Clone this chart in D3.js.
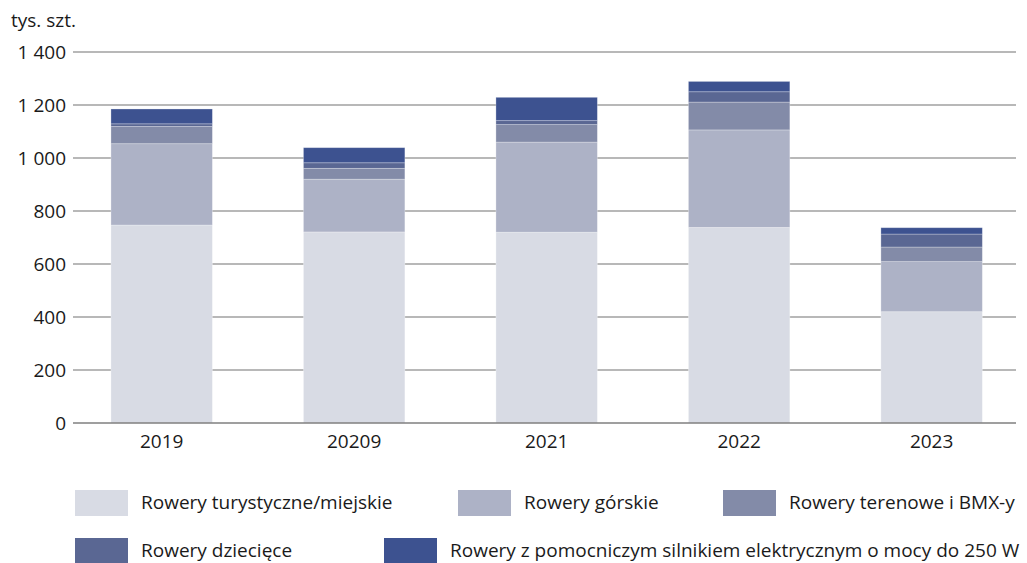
<!DOCTYPE html>
<html><head><meta charset="utf-8">
<script src="https://cdn.jsdelivr.net/npm/d3@7"></script>
<style>
html,body{margin:0;padding:0;background:#fff;}
svg{display:block;font-family:"Open Sans",sans-serif;}
</style></head>
<body><svg id="c" width="1027" height="563"></svg>
<script>
const years = ["2019","20209","2021","2022","2023"];
const turystyczne = [747, 721, 720, 738, 420];
const gorskie = [307, 199, 340, 368, 189];
const terenowe = [65, 41, 66, 105, 55];
const dzieciece = [10, 21, 15, 39, 49];
const elektryczne = [56, 57, 88, 39, 24];
const seriesNames = ["Rowery turystyczne/miejskie","Rowery górskie","Rowery terenowe i BMX-y","Rowery dziecięce","Rowery z pomocniczym silnikiem elektrycznym o mocy do 250 W"];
const seriesKeys = ["tur","gor","ter","dzi","ele"];
const colors = ["#d8dbe4","#adb2c6","#838ba8","#5a6793","#3d5290"];
const yTicks = [0,200,400,600,800,1000,1200,1400];
const unitLabel = "tys. szt.";

const rows = years.map((y,i)=>({year:y,tur:turystyczne[i],gor:gorskie[i],ter:terenowe[i],dzi:dzieciece[i],ele:elektryczne[i]}));
const stack = d3.stack().keys(seriesKeys)(rows);

const svg = d3.select("#c");
const fs = 19;
const x = d3.scaleBand().domain(years).range([73,1016]).paddingInner(0.473).paddingOuter(0.186).align(0.53);
const y = d3.scaleLinear().domain([0,1400]).range([423,52]);
const loc = d3.formatLocale({decimal:",",thousands:"\u00a0",grouping:[3],currency:["",""]});
const fmt = loc.format(",d");

// gridlines
svg.append("g").selectAll("line").data(yTicks.filter(d=>d>0)).join("line")
  .attr("x1",73).attr("x2",1016).attr("y1",d=>y(d)).attr("y2",d=>y(d))
  .attr("stroke","#a0a0a0").attr("stroke-width",1.3);

// y axis labels
const yAxis = d3.axisLeft(y).tickValues(yTicks).tickFormat(fmt).tickSize(0).tickPadding(7);
const ya = svg.append("g").attr("transform","translate(73,0)").call(yAxis);
ya.select(".domain").remove();
ya.selectAll("text").attr("font-size",fs).attr("font-family","Open Sans").attr("fill","#1a1a1a");

svg.append("text").attr("x",11).attr("y",27).attr("font-size",fs).attr("fill","#1a1a1a").text(unitLabel);

// bars
svg.append("g").selectAll("g").data(stack).join("g")
  .attr("fill",(d,i)=>colors[i])
  .selectAll("rect").data(d=>d).join("rect")
  .attr("x",d=>x(d.data.year)).attr("width",x.bandwidth())
  .attr("y",d=>y(d[1])).attr("height",d=>y(d[0])-y(d[1]))
  .attr("stroke","#ffffff").attr("stroke-opacity",0.35).attr("stroke-width",0.8);

// baseline
svg.append("line").attr("x1",73).attr("x2",1016).attr("y1",y(0)).attr("y2",y(0))
  .attr("stroke","#7f7f7f").attr("stroke-width",1.4);

// x axis
const xAxis = d3.axisBottom(x).tickSize(0).tickPadding(12);
const xa = svg.append("g").attr("transform",`translate(0,${y(0)})`).call(xAxis);
xa.select(".domain").remove();
xa.selectAll("text").attr("font-size",fs).attr("font-family","Open Sans").attr("fill","#1a1a1a");

// legend
const legendPos = [[75,490],[458,490],[723,490],[75,538],[384,538]];
const lg = svg.append("g").selectAll("g").data(seriesNames).join("g")
  .attr("transform",(d,i)=>`translate(${legendPos[i][0]},${legendPos[i][1]})`);
lg.append("rect").attr("width",53).attr("height",26).attr("fill",(d,i)=>colors[i]);
lg.append("text").attr("x",66).attr("y",19).attr("font-size",fs).attr("fill","#1a1a1a").text(d=>d);
</script></body></html>
